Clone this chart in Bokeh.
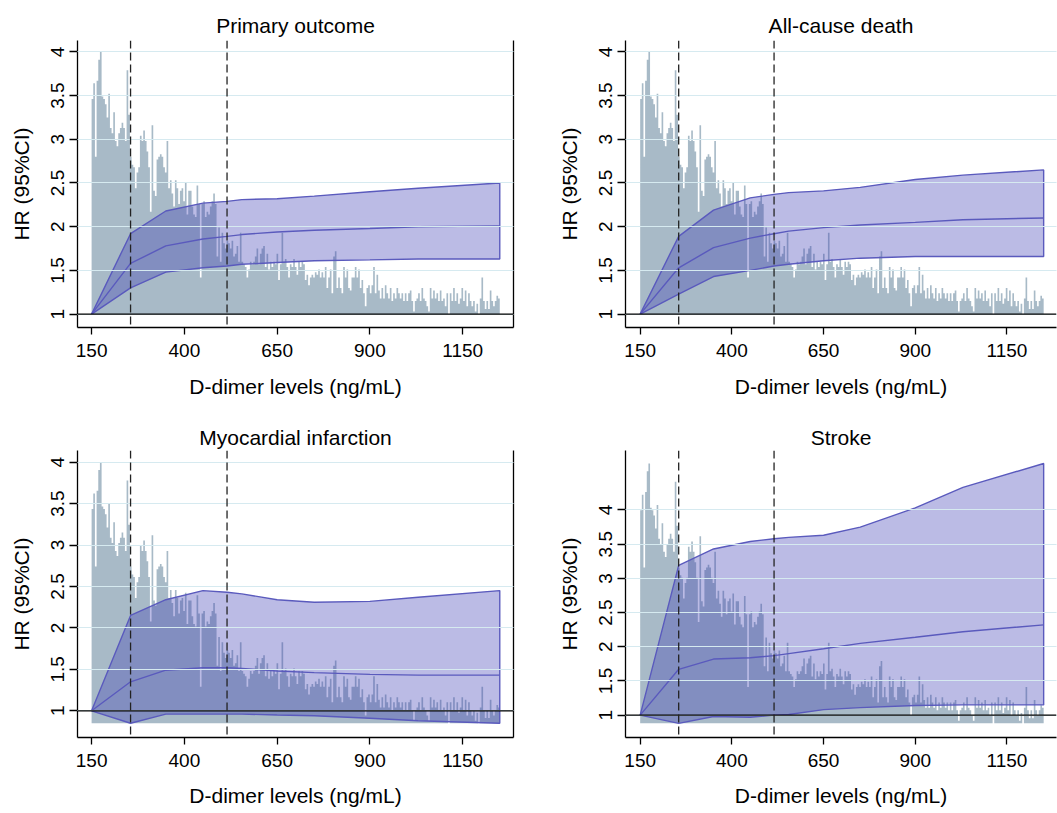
from bokeh.plotting import figure
from bokeh.layouts import gridplot
from bokeh.models import Range1d, LinearAxis, FixedTicker, Span
from bokeh.embed import file_html
from bokeh.resources import INLINE

# ---------------- data ----------------
titles = ["Primary outcome", "All-cause death", "Myocardial infarction", "Stroke"]
ddimer = [150, 255, 350, 450, 515, 555, 650, 750, 900, 1030, 1250]

hr_primary = [1.00, 1.58, 1.78, 1.86, 1.89, 1.91, 1.94, 1.96, 1.98, 2.00, 2.01]
up_primary = [1.00, 1.92, 2.18, 2.27, 2.29, 2.31, 2.32, 2.35, 2.40, 2.44, 2.50]
lo_primary = [1.00, 1.30, 1.48, 1.53, 1.55, 1.57, 1.59, 1.61, 1.62, 1.63, 1.63]

hr_death = [1.00, 1.53, 1.76, 1.87, 1.92, 1.95, 1.99, 2.02, 2.05, 2.08, 2.10]
up_death = [1.00, 1.89, 2.19, 2.33, 2.37, 2.39, 2.41, 2.45, 2.54, 2.59, 2.65]
lo_death = [1.00, 1.23, 1.43, 1.50, 1.55, 1.57, 1.61, 1.64, 1.66, 1.66, 1.66]

hr_mi = [1.00, 1.35, 1.49, 1.52, 1.52, 1.51, 1.48, 1.46, 1.44, 1.43, 1.43]
up_mi = [1.00, 2.15, 2.34, 2.45, 2.43, 2.41, 2.34, 2.31, 2.32, 2.37, 2.45]
lo_mi = [1.00, 0.85, 0.96, 0.96, 0.96, 0.96, 0.95, 0.94, 0.91, 0.88, 0.85]

hr_stroke = [1.00, 1.67, 1.82, 1.84, 1.87, 1.90, 1.97, 2.05, 2.14, 2.22, 2.32]
up_stroke = [1.00, 3.19, 3.43, 3.54, 3.58, 3.60, 3.63, 3.75, 4.03, 4.33, 4.68]
lo_stroke = [1.00, 0.88, 0.98, 0.97, 1.00, 1.01, 1.08, 1.11, 1.14, 1.15, 1.15]

cutoffs = [255, 515]
x_ticks = [150, 400, 650, 900, 1150]
y_ticks = [1, 1.5, 2, 2.5, 3, 3.5, 4]
y_tick_labels = ["1", "1.5", "2", "2.5", "3", "3.5", "4"]

# distribution of D-dimer (relative frequency, % of tallest bin)
hist_start, hist_end = 150, 1250
hist_pct = [
    82, 88, 60, 89, 97, 100, 83, 82, 80, 75, 84, 71, 69, 77, 66, 64, 69, 71, 73, 71,
    66, 93, 76, 60, 57, 56, 48, 54, 56, 68, 66, 70, 66, 62, 56, 39, 72, 47, 45, 59,
    60, 61, 60, 56, 54, 66, 48, 51, 46, 41, 51, 48, 42, 47, 48, 43, 50, 38, 47, 47,
    41, 38, 37, 49, 42, 14, 42, 43, 37, 39, 38, 41, 43, 46, 42, 22, 33, 20, 31, 27,
    25, 28, 27, 25, 28, 22, 23, 26, 20, 31, 20, 19, 18, 14, 17, 20, 19, 20, 22, 25,
    19, 23, 25, 26, 18, 23, 17, 20, 18, 20, 19, 23, 13, 19, 31, 20, 21, 18, 14, 19,
    18, 21, 18, 15, 20, 18, 20, 19, 13, 15, 11, 14, 15, 14, 16, 15, 17, 14, 16, 14,
    18, 10, 14, 17, 8, 22, 24, 10, 14, 10, 8, 18, 14, 17, 10, 9, 14, 14, 18, 14,
    17, 10, 13, 8, 3, 10, 11, 8, 11, 18, 8, 15, 9, 6, 10, 6, 11, 8, 6, 10,
    5, 8, 6, 10, 8, 6, 8, 5, 8, 5, 8, 9, 5, 1, 5, 6, 8, 5, 10, 6,
    5, 3, 1, 10, 6, 9, 6, 8, 5, 9, 5, 6, 3, 8, 0, 8, 5, 10, 5, 8,
    4, 6, 10, 5, 9, 3, 8, 5, 3, 5, 1, 4, 0, 6, 14, 5, 2, 5, 2, 9,
    5, 3, 5, 7, 6,
]

series = [
    (hr_primary, lo_primary, up_primary),
    (hr_death, lo_death, up_death),
    (hr_mi, lo_mi, up_mi),
    (hr_stroke, lo_stroke, up_stroke),
]

# ---------------- layout / style ----------------
FONT = "Liberation Sans"
BAND = (60, 60, 180)
EDGE = "#5a5abd"
HIST = "#a8bac7"
GRID = "#d6eaf0"

y_ranges = [(0.847, 4.13), (0.847, 4.13), (0.678, 4.14), (0.673, 4.87)]
title_offsets = [-3, 16, -10, 21]

n = len(hist_pct)
bw = (hist_end - hist_start) / n
hist_x = [hist_start + i * bw for i in range(n + 1)]
hist_y = hist_pct + [hist_pct[-1]]


def make_panel(k):
    is_left = k % 2 == 0
    is_top = k < 2
    hr, lo, up = series[k]
    x0, x1 = (112, 1287) if is_left else (110, 1285)
    y0, y1 = y_ranges[k]
    p = figure(
        width=528 if is_left else 529,
        height=410 if is_top else 403,
        x_range=Range1d(x0, x1),
        y_range=Range1d(y0, y1),
        output_backend="svg",
        toolbar_location=None,
        title=titles[k],
        min_border_left=77 if is_left else 97,
        min_border_right=15 if is_left else 1,
        min_border_top=40,
        min_border_bottom=83 if is_top else 76,
    )
    p.outline_line_color = None
    p.background_fill_color = "white"
    p.border_fill_color = "white"

    # title
    p.title.text_font = FONT
    p.title.text_font_size = "21px"
    p.title.text_font_style = "normal"
    p.title.text_color = "black"
    p.title.align = "center"
    p.title.offset = title_offsets[k]
    p.title.standoff = 8 if is_top else 4

    # histogram on its own scale: base of data -> 0 %, top of data -> 100 %
    base = min(lo)
    top = max(max(up), y_ticks[-1])
    s0 = (y0 - base) / (top - base) * 100
    s1 = (y1 - base) / (top - base) * 100
    p.extra_y_ranges = {"hist": Range1d(s0, s1)}
    p.varea_step(x=hist_x, y1=0, y2=hist_y, step_mode="after",
                 fill_color=HIST, y_range_name="hist")

    # confidence band and HR curve
    p.patch(x=ddimer + ddimer[::-1], y=up + lo[::-1],
            fill_color=BAND, fill_alpha=0.35, line_color=EDGE, line_width=1.4)
    p.line(ddimer, hr, line_color=EDGE, line_width=1.4)

    # reference lines
    p.add_layout(Span(location=1, dimension="width", line_color="black", line_width=1.3))
    for c in cutoffs:
        p.add_layout(Span(location=c, dimension="height", line_color="#222222",
                          line_width=1.3, line_dash="8 4"))

    # grid
    p.xgrid.visible = False
    p.ygrid.ticker = FixedTicker(ticks=y_ticks)
    p.ygrid.grid_line_color = GRID
    p.ygrid.grid_line_width = 1
    p.ygrid.level = "guide"

    # axes
    for ax in (p.xaxis[0], p.yaxis[0]):
        ax.axis_line_width = 1.3
        ax.axis_line_color = "black"
        ax.major_tick_line_color = "black"
        ax.major_tick_line_width = 1.3
        ax.minor_tick_line_color = None
        ax.major_tick_in = 0
        ax.major_label_text_font = FONT
        ax.major_label_text_font_size = "19px"
        ax.major_label_text_color = "black"
        ax.axis_label_text_font = FONT
        ax.axis_label_text_font_size = "21px"
        ax.axis_label_text_font_style = "normal"
        ax.axis_label_text_color = "black"

    xa = p.xaxis[0]
    xa.ticker = FixedTicker(ticks=x_ticks)
    xa.axis_label = "D-dimer levels (ng/mL)"
    xa.major_tick_out = 7
    xa.major_label_standoff = 9
    xa.axis_label_standoff = 15 if is_top else 14

    ya = p.yaxis[0]
    ya.ticker = FixedTicker(ticks=y_ticks)
    ya.major_label_overrides = {t: l for t, l in zip(y_ticks, y_tick_labels)}
    ya.major_label_orientation = "vertical"
    ya.axis_label = "HR (95%CI)"
    ya.major_tick_out = 8
    ya.major_label_standoff = 5
    ya.axis_label_standoff = 16

    if is_left:
        rax = LinearAxis(ticker=FixedTicker(ticks=[]), axis_line_width=1.3,
                         axis_line_color="black", major_tick_line_color=None,
                         minor_tick_line_color=None, major_label_text_font_size="0px")
        p.add_layout(rax, "right")
    return p


panels = [make_panel(k) for k in range(4)]
grid = gridplot([[panels[0], panels[1]], [panels[2], panels[3]]], toolbar_location=None)

open("out.html", "w").write(file_html(grid, INLINE))
